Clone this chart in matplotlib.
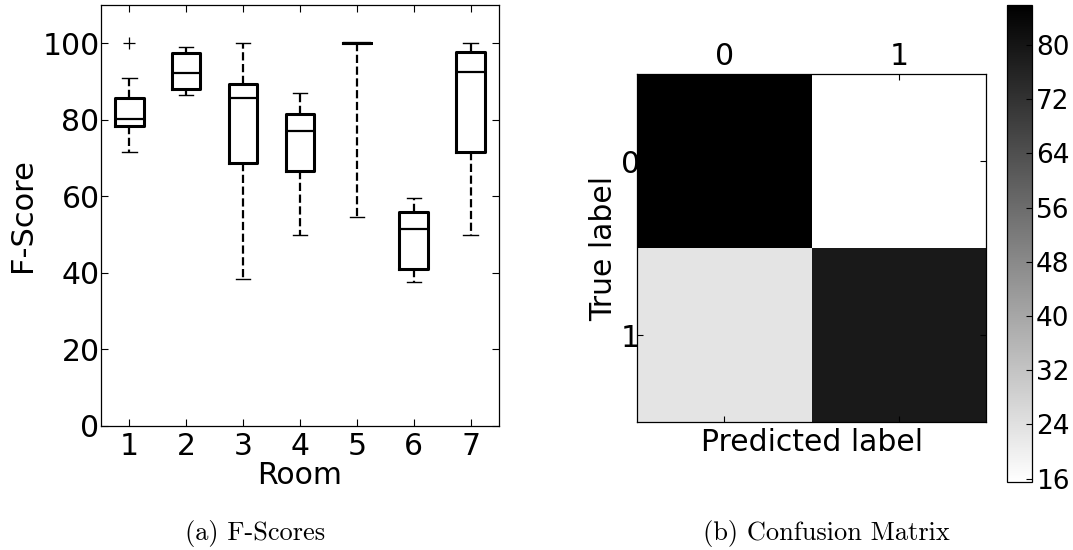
import numpy as np
import matplotlib
matplotlib.use("Agg")
import matplotlib.pyplot as plt

# box plot statistics per room
rooms = ["1", "2", "3", "4", "5", "6", "7"]
whislo = [71.5, 86.4, 38.4, 50.0, 54.5, 37.6, 50.0]
q1 = [78.5, 88.0, 68.8, 66.7, 100.0, 41.0, 71.6]
med = [80.2, 92.3, 85.6, 77.0, 100.0, 51.4, 92.5]
q3 = [85.6, 97.5, 89.3, 81.4, 100.0, 55.9, 97.7]
whishi = [91.0, 99.0, 100.0, 87.0, 100.0, 59.5, 100.0]
fliers = [[100.0], [], [], [], [], [], []]

# confusion matrix
conf = np.array([[85.9, 15.5],
                 [23.2, 78.7]])
class_labels = ["0", "1"]
cbar_ticks = [16, 24, 32, 40, 48, 56, 64, 72, 80]

plt.rcParams["font.family"] = "DejaVu Sans"
fig = plt.figure(figsize=(10.73, 5.5), dpi=100)

# ---- (a) F-scores box plot
ax0 = fig.add_axes([0.0941, 0.2255, 0.3709, 0.7655])
stats = []
for i in range(len(rooms)):
    stats.append(dict(label=rooms[i], whislo=whislo[i], q1=q1[i], med=med[i],
                      q3=q3[i], whishi=whishi[i], fliers=fliers[i]))
ax0.bxp(stats, widths=0.5,
        boxprops=dict(color="black", linewidth=2.2),
        medianprops=dict(color="black", linewidth=1.6),
        whiskerprops=dict(color="black", linewidth=1.6, linestyle="--"),
        capprops=dict(color="black", linewidth=1.0),
        flierprops=dict(marker="+", markeredgecolor="black", markersize=8,
                        markeredgewidth=0.9))
ax0.set_ylim(0, 110)
ax0.set_xlim(0.5, 7.5)
ax0.set_yticks([0, 20, 40, 60, 80, 100])
ax0.set_xlabel("Room", fontsize=21.5, labelpad=0)
ax0.set_ylabel("F-Score", fontsize=22, labelpad=4)
ax0.tick_params(direction="in", top=True, right=True, labelsize=21.5, length=5, pad=1)
ax0.tick_params(axis="x", pad=4)
for sp in ax0.spines.values():
    sp.set_linewidth(0.9)

# ---- (b) confusion matrix
ax1 = fig.add_axes([0.5937, 0.2327, 0.3253, 0.6327])
im = ax1.matshow(conf, cmap="binary", aspect="auto")
ax1.set_xticks([0, 1])
ax1.set_yticks([0, 1])
ax1.set_xticklabels(class_labels)
ax1.set_yticklabels(class_labels)
ax1.set_xlabel("Predicted label", fontsize=21.5, labelpad=4)
ax1.set_ylabel("True label", fontsize=21.5, labelpad=2)
ax1.tick_params(direction="in", top=True, bottom=True, left=True, right=True,
                labelsize=21.5, length=4, pad=-2)
ax1.tick_params(axis="x", pad=2)
for sp in ax1.spines.values():
    sp.set_linewidth(0.9)

cax = fig.add_axes([0.9385, 0.1236, 0.0233, 0.8673])
cb = fig.colorbar(im, cax=cax, ticks=cbar_ticks)
cb.ax.tick_params(direction="in", labelsize=19, length=4, pad=3)
cb.outline.set_linewidth(0.9)

# captions
fig.text(0.238, 0.03, "(a) F-Scores", family="cmr10", fontsize=19,
         ha="center", va="center")
fig.text(0.77, 0.03, "(b) Confusion Matrix", family="cmr10", fontsize=19,
         ha="center", va="center")

fig.savefig("out.png", dpi=100)
